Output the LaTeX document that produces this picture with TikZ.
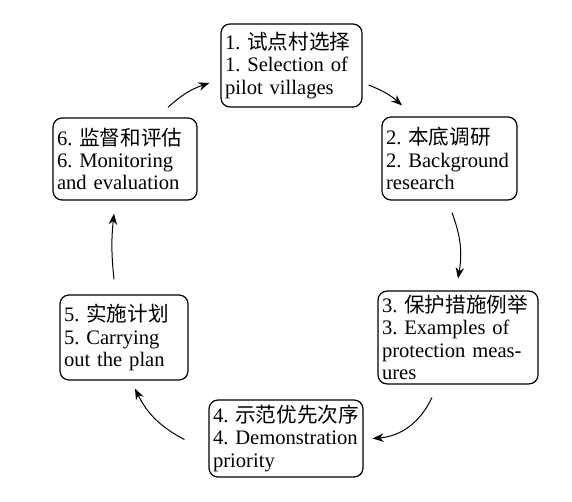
\documentclass[tikz,border=0pt]{standalone}
\usepackage{fontspec}
\setmainfont{Liberation Serif}
\newfontfamily\cjk{Noto Sans CJK SC}
\usetikzlibrary{arrows.meta}
\newcommand{\zh}[1]{{\cjk #1}}
\frenchspacing

\begin{document}
\begin{tikzpicture}[
    x=1pt, y=1pt,
    stage/.style={
      rectangle, rounded corners=9pt,
      draw=black, line width=1.2pt,
      inner xsep=4pt, inner ysep=4pt,
      align=left, font=\fontsize{20.6}{22.4}\selectfont
    },
    cyclearr/.style={
      -{Stealth[length=11pt, width=8.5pt]}, line width=1pt
    }
  ]

  \useasboundingbox (0,0) rectangle (572,501);

  % ---- Stage nodes ----
  \node[stage, text width=133pt, minimum height=83pt] (S1) at (291.5,435.5)
    {1. \zh{试点村选择}\\1. Selection of\\pilot villages};
  \node[stage, text width=127pt, minimum height=83pt] (S2) at (449.5,342.5)
    {2. \zh{本底调研}\\2. Background\\research};
  \node[stage, text width=152pt, minimum height=91pt] (S3) at (458,163.5)
    {3. \zh{保护措施例举}\\3. Examples of\\protection meas-\\ures};
  \node[stage, text width=146pt, minimum height=77pt] (S4) at (286,62.5)
    {4. \zh{示范优先次序}\\4. Demonstration\\priority};
  \node[stage, text width=120pt, minimum height=85pt] (S5) at (124,163.5)
    {5. \zh{实施计划}\\5. Carrying\\out the plan};
  \node[stage, text width=136pt, minimum height=82pt] (S6) at (125,342)
    {6. \zh{监督和评估}\\6. Monitoring\\and evaluation};

  % ---- Cycle arrows ----
  \draw[cyclearr] ([shift={(6,-19.5)}]S1.east)  to[bend left=10] ([shift={(-47.5,11)}]S2.north);
  \draw[cyclearr] ([shift={(2.5,-12)}]S2.south) to[bend left=15] ([shift={(0,12)}]S3.north);
  \draw[cyclearr] ([shift={(-26,-13)}]S3.south) to[bend left=30] ([shift={(9,0)}]S4.east);
  \draw[cyclearr] ([shift={(-24,-1)}]S4.west)   to[bend left=18] ([shift={(11,-8)}]S5.south);
  \draw[cyclearr] ([shift={(-10,15)}]S5.north)  to[bend left=6]  ([shift={(-11,-13)}]S6.south);
  \draw[cyclearr] ([shift={(43,10)}]S6.north)   to[bend left=12] ([shift={(-11,-17.5)}]S1.west);

\end{tikzpicture}
\end{document}
